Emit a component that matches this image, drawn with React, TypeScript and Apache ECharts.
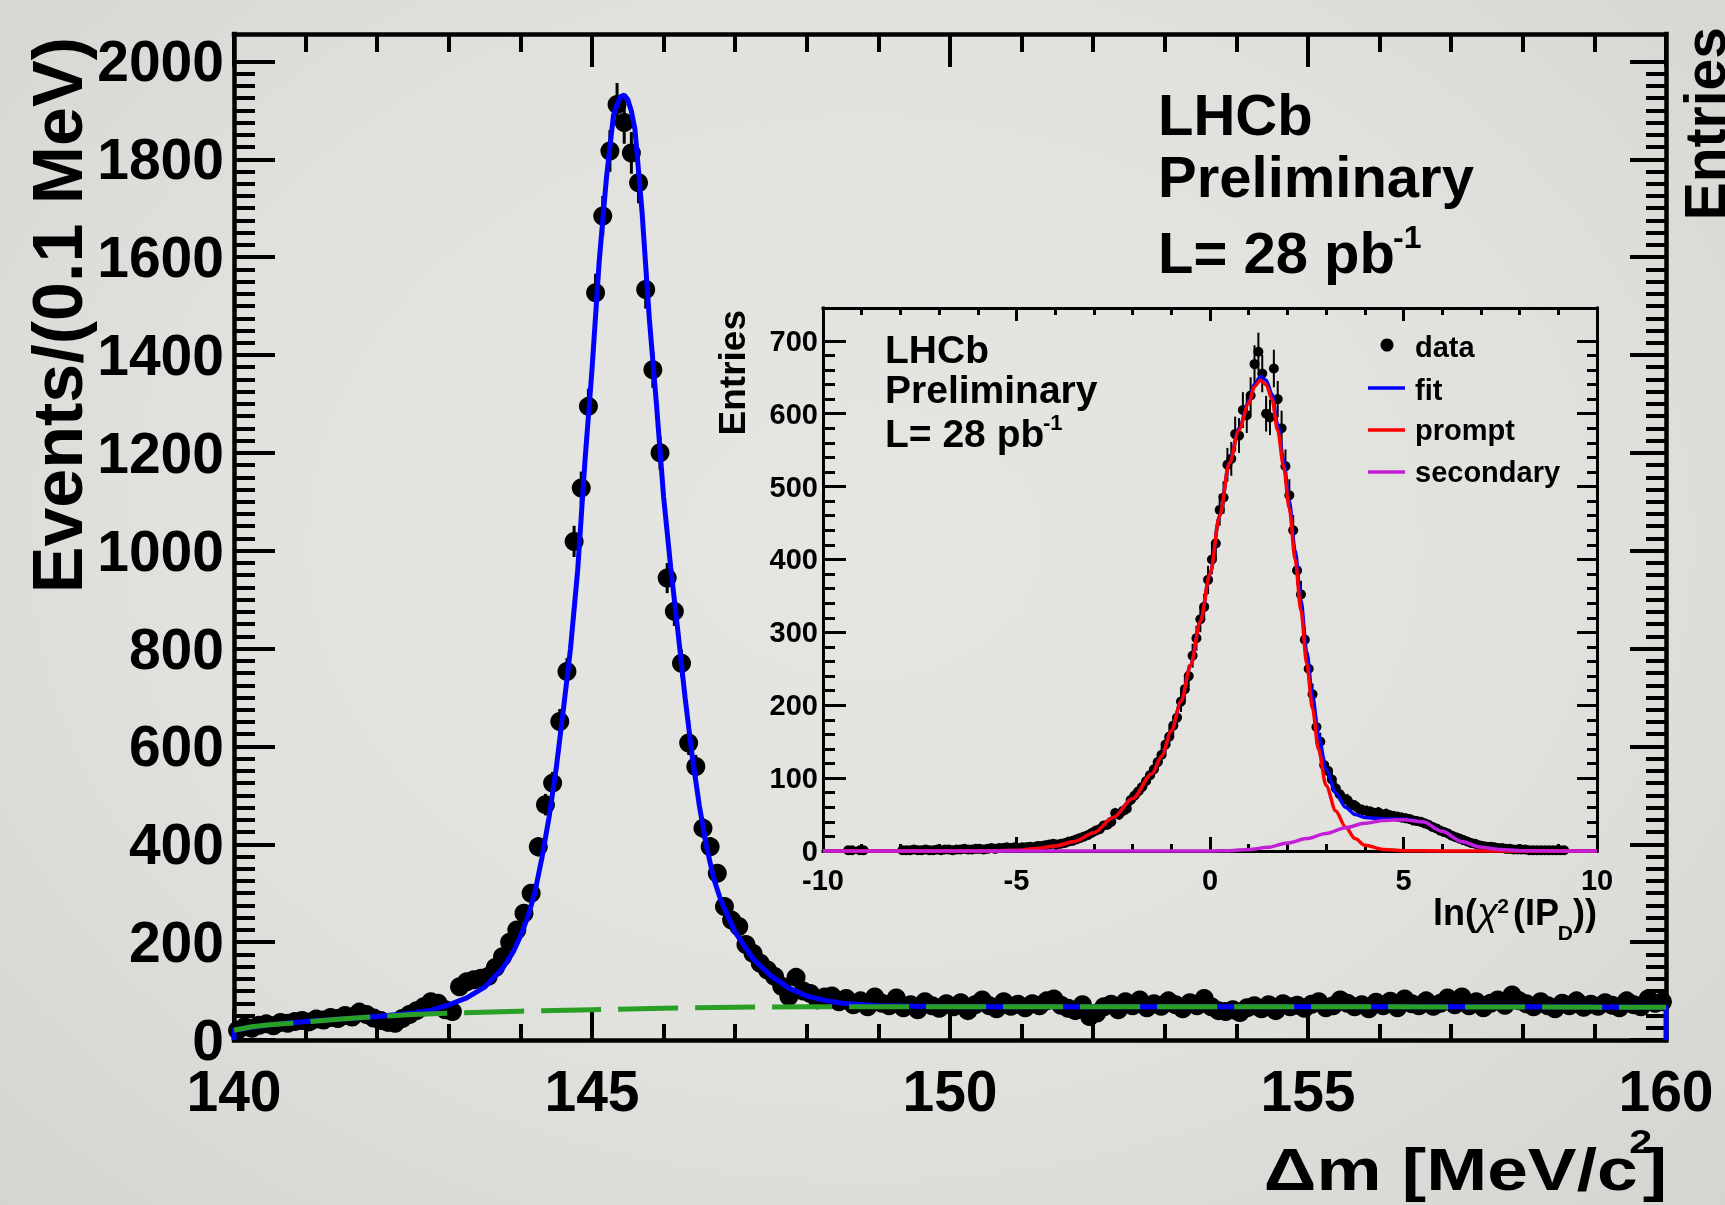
import React, { useEffect, useRef } from "react";
import * as echarts from "echarts";

const FONT = '"Liberation Sans", Arial, Helvetica, sans-serif';

// ---------- Δm = m(D*) - m(D0) spectrum, 0.1 MeV/c^2 bins from 140 to 160 ----------
const massBinStart = 140;
const massBinWidth = 0.1;
const massCounts = [
  20, 27, 24, 30, 33, 29, 36, 34, 38, 40,
  37, 43, 41, 46, 44, 50, 47, 57, 52, 45,
  40, 36, 34, 44, 52, 60, 68, 78, 75, 62,
  58, 109, 119, 123, 126, 130, 148, 170, 200, 225,
  259, 300, 395, 481, 525, 651, 753, 1019, 1128, 1295,
  1527, 1684, 1817, 1912, 1875, 1813, 1752, 1534, 1370, 1200,
  944, 876, 770, 607, 559, 433, 395, 341, 273, 245,
  232, 195, 177, 157, 143, 130, 110, 89, 128, 100,
  95, 82, 88, 90, 78, 85, 72, 80, 68, 88,
  75, 70, 86, 66, 72, 62, 78, 70, 65, 74,
  68, 76, 60, 72, 82, 70, 64, 78, 69, 73,
  66, 74, 70, 80, 84, 71, 65, 60, 72, 48,
  55, 68, 73, 62, 78, 70, 82, 66, 74, 69,
  80, 72, 64, 76, 70, 85, 68, 60, 58, 62,
  56, 66, 70, 64, 72, 60, 74, 68, 71, 65,
  73, 78, 66, 70, 82, 75, 68, 72, 64, 77,
  70, 79, 66, 84, 74, 70, 80, 69, 75, 86,
  72, 88, 70, 78, 66, 75, 82, 71, 92, 80,
  74, 68, 78, 70, 64, 75, 70, 80, 67, 73,
  69, 76, 71, 66, 80, 72, 68, 84, 75, 78,
];

// total fit (signal + background)
const massFitX = [
  140, 140, 140.25, 140.5, 141, 141.5, 142, 142.5, 142.75, 143,
  143.25, 143.5, 143.75, 143.9, 144, 144.1, 144.2, 144.3, 144.4, 144.5,
  144.6, 144.7, 144.8, 144.9, 145, 145.1, 145.2, 145.3, 145.35, 145.4,
  145.45, 145.5, 145.55, 145.6, 145.7, 145.8, 145.9, 146, 146.1, 146.2,
  146.3, 146.4, 146.5, 146.6, 146.7, 146.8, 147, 147.25, 147.5, 147.75,
  148, 148.25, 148.5, 149, 150, 152, 155, 158, 160, 160,
];
const massFitY = [
  0, 20, 26, 31, 38, 43, 48, 55, 61, 72,
  86, 108, 146, 180, 212, 250, 300, 372, 455, 555,
  675, 800, 960, 1180, 1370, 1590, 1759, 1890, 1912, 1928,
  1931, 1922, 1898, 1861, 1690, 1475, 1300, 1110, 965, 835,
  700, 580, 478, 395, 330, 285, 220, 166, 131, 106,
  90, 81, 75, 70, 68, 68, 68, 68, 67, 0,
];

// combinatorial background component
const massBkgX = [140, 140.25, 140.5, 141, 141.5, 142, 142.5, 143, 144, 145, 146, 147, 148, 150, 155, 160];
const massBkgY = [20, 27, 31, 37, 43, 48, 52, 55, 59, 62, 65, 67, 68, 68, 68, 67];

// ---------- ln(chi2(IP_D)) distribution, 0.1 bins from -10 to 10 ----------
const ipBinStart = -10;
const ipBinWidth = 0.1;
const ipCounts = [
  0, 0, 0, 0, 0, 0, 1, 1, 0, 1,
  1, 0, 0, 0, 0, 0, 0, 0, 0, 0,
  1, 1, 1, 2, 1, 1, 2, 1, 1, 2,
  1, 2, 2, 1, 2, 2, 3, 2, 2, 3,
  3, 2, 3, 4, 3, 4, 4, 5, 4, 5,
  4, 5, 5, 6, 5, 7, 7, 8, 9, 10,
  9, 10, 11, 13, 14, 16, 18, 20, 22, 25,
  28, 30, 35, 36, 40, 52, 50, 55, 58, 70,
  76, 82, 88, 96, 104, 112, 122, 132, 146, 157,
  172, 183, 205, 222, 240, 268, 292, 318, 335, 372,
  400, 422, 468, 485, 530, 538, 572, 570, 605, 598,
  625, 668, 685, 655, 600, 595, 662, 620, 580, 528,
  488, 440, 385, 352, 290, 250, 215, 170, 150, 118,
  110, 98, 86, 78, 72, 70, 64, 62, 58, 56,
  55, 54, 52, 53, 50, 51, 49, 48, 47, 46,
  45, 44, 42, 41, 40, 38, 36, 33, 31, 28,
  26, 24, 21, 19, 17, 15, 13, 11, 10, 8,
  7, 6, 6, 5, 4, 4, 3, 3, 2, 2,
  2, 2, 1, 1, 1, 1, 1, 1, 1, 1,
  1, 1, 0, 0, 0, 0, 0, 0, 0, 0,
];

const ipFitX = [
  -10, -6, -5, -4.5, -4, -3.5, -3, -2.5, -2, -1.5,
  -1.25, -1, -0.75, -0.5, -0.25, 0, 0.25, 0.5, 0.75, 1,
  1.15, 1.3, 1.45, 1.6, 1.75, 1.9, 2.05, 2.2, 2.35, 2.5,
  2.65, 2.8, 3, 3.25, 3.5, 3.75, 4, 4.5, 5, 5.5,
  6, 6.5, 7, 7.5, 8, 9, 10,
];
const ipFitY = [
  0, 0, 1, 3.5, 7, 13, 25, 46, 72, 106,
  130, 165, 205, 255, 315, 380, 460, 533, 580, 616,
  640, 651, 646, 627, 585, 537, 480, 412, 344, 273,
  213, 160, 112, 80, 60, 50, 46, 44, 43.5, 40,
  27, 13, 5, 2, 0.5, 0, 0,
];
const ipPromptX = [
  -10, -6, -5, -4.5, -4, -3.5, -3, -2.5, -2, -1.5,
  -1.25, -1, -0.75, -0.5, -0.25, 0, 0.25, 0.5, 0.75, 1,
  1.15, 1.3, 1.45, 1.6, 1.75, 1.9, 2.05, 2.2, 2.35, 2.5,
  2.65, 2.8, 3, 3.25, 3.5, 3.75, 4, 4.5, 5, 6, 10,
];
const ipPromptY = [
  0, 0, 1, 3.5, 7, 13, 25, 46, 72, 106,
  130, 165, 205, 255, 315, 380, 460, 532, 578, 614,
  637, 646, 640, 620, 577, 528, 470, 400, 330, 257,
  195, 140, 90, 55, 33, 17, 8, 2, 0.5, 0, 0,
];
const ipSecondaryX = [-10, 0, 0.5, 1, 1.5, 2, 2.5, 3, 3.5, 4, 4.5, 5, 5.5, 6, 6.5, 7, 7.5, 8, 9, 10];
const ipSecondaryY = [0, 0, 0.5, 2, 5, 11, 17, 24, 32, 38, 42, 43, 40, 27, 13, 5, 2, 0.5, 0, 0];

// ---------- layout ----------
const W = 1725;
const H = 1205;
const MAIN = { left: 234, top: 34, right: 1666, bottom: 1040 };
const MAIN_X = [140, 160];
const MAIN_Y_MAX = 2056;
const MAIN_Y_TICK_MAX = 2000;
const INSET = { left: 823, top: 308, right: 1597, bottom: 851 };
const INSET_X = [-10, 10];
const INSET_Y_MAX = 745;
const INSET_Y_TICK_MAX = 700;

const zip = (xs: number[], ys: number[]) => xs.map((x, i) => [x, ys[i]]);
const binned = (start: number, width: number, counts: number[]) =>
  counts
    .map((c, i) => [start + (i + 0.5) * width, c])
    .filter((p) => p[1] > 0);

const massPoints = binned(massBinStart, massBinWidth, massCounts);
const ipPoints = binned(ipBinStart, ipBinWidth, ipCounts);

const lineStyle = (w: number) => ({ color: "#000", width: w, cap: "square" });
const ticks = (major: number, minor: number, split: number, w: number) => ({
  axisTick: { show: true, inside: true, length: major, lineStyle: { color: "#000", width: w } },
  minorTick: { show: true, splitNumber: split, length: minor, lineStyle: { color: "#000", width: w } },
});
const noTicks = { axisTick: { show: false }, minorTick: { show: false } };
const label = (size: number, margin: number, padding?: number[]) => ({
  show: true,
  color: "#000",
  fontSize: size,
  fontWeight: "bold",
  fontFamily: FONT,
  margin,
  formatter: (v: number) => String(v),
  ...(padding ? { padding } : {}),
});
const noLabel = { axisLabel: { show: false } };
const noSplit = { splitLine: { show: false }, minorSplitLine: { show: false } };
const hiddenLine = { axisLine: { show: false, onZero: false } };

const errorBars = (xAxisIndex: number, yAxisIndex: number, pts: number[][], w: number) => ({
  type: "custom",
  xAxisIndex,
  yAxisIndex,
  silent: true,
  z: 2,
  clip: false,
  data: pts.map((p) => [p[0], p[1], Math.sqrt(p[1])]),
  renderItem: (_params: any, api: any) => {
    const x = api.value(0);
    const y = api.value(1);
    const e = api.value(2);
    const a = api.coord([x, Math.max(0, y - e)]);
    const b = api.coord([x, y + e]);
    return {
      type: "line",
      shape: { x1: a[0], y1: a[1], x2: b[0], y2: b[1] },
      style: { stroke: "#000", lineWidth: w },
    };
  },
});

const dots = (xAxisIndex: number, yAxisIndex: number, pts: number[][], size: number) => ({
  type: "scatter",
  xAxisIndex,
  yAxisIndex,
  data: pts,
  symbol: "circle",
  symbolSize: size,
  itemStyle: { color: "#000", opacity: 1 },
  silent: true,
  clip: false,
  z: 3,
});

const curve = (
  xAxisIndex: number,
  yAxisIndex: number,
  xs: number[],
  ys: number[],
  color: string,
  width: number,
  z: number,
  smooth: number | boolean,
  extra: any = {}
) => ({
  type: "line",
  xAxisIndex,
  yAxisIndex,
  data: zip(xs, ys),
  symbol: "none",
  showSymbol: false,
  silent: true,
  clip: false,
  smooth,
  smoothMonotone: "x",
  z,
  lineStyle: { color, width, opacity: 1, ...extra },
});

// text placed by its baseline
const text = (
  str: string,
  x: number,
  baseline: number,
  size: number,
  align: string = "left",
  more: any = {}
) => ({
  type: "text",
  x,
  y: baseline - 0.347 * size,
  silent: true,
  style: {
    text: str,
    fill: "#000",
    fontSize: size,
    fontWeight: "bold",
    fontFamily: FONT,
    align,
    verticalAlign: "middle",
    ...(more.style || {}),
  },
});

// vertical title reading upwards; `top` is where the end of the string sits
const vtext = (str: string, baselineX: number, top: number, size: number) => ({
  type: "text",
  x: baselineX - 0.347 * size,
  y: top,
  rotation: Math.PI / 2,
  silent: true,
  style: {
    text: str,
    fill: "#000",
    fontSize: size,
    fontWeight: "bold",
    fontFamily: FONT,
    align: "right",
    verticalAlign: "middle",
  },
});

function buildOption() {
  const mainH = MAIN.bottom - MAIN.top;
  const mainW = MAIN.right - MAIN.left;
  const mainTickH = (mainH * MAIN_Y_TICK_MAX) / MAIN_Y_MAX;
  const insH = INSET.bottom - INSET.top;
  const insW = INSET.right - INSET.left;
  const insTickH = (insH * INSET_Y_TICK_MAX) / INSET_Y_MAX;

  const grid = [
    { left: MAIN.left, top: MAIN.top, width: mainW, height: mainH },
    { left: MAIN.left, top: MAIN.bottom - mainTickH, width: mainW, height: mainTickH },
    { left: INSET.left, top: INSET.top, width: insW, height: insH },
    { left: INSET.left, top: INSET.bottom - insTickH, width: insW, height: insTickH },
  ].map((g) => ({ ...g, containLabel: false, outerBoundsMode: "none", show: false }));

  const xAxis = [
    {
      type: "value", gridIndex: 0, position: "bottom", min: MAIN_X[0], max: MAIN_X[1], interval: 5,
      axisLine: { show: true, onZero: false, lineStyle: lineStyle(4.5) },
      ...ticks(31, 16, 5, 4),
      axisLabel: label(57, 22),
      ...noSplit,
    },
    {
      type: "value", gridIndex: 0, position: "top", min: MAIN_X[0], max: MAIN_X[1], interval: 5,
      axisLine: { show: true, onZero: false, lineStyle: lineStyle(4.5) },
      ...ticks(33, 18, 5, 4),
      ...noLabel,
      ...noSplit,
    },
    { type: "value", gridIndex: 1, min: MAIN_X[0], max: MAIN_X[1], show: false, ...hiddenLine },
    {
      type: "value", gridIndex: 2, position: "bottom", min: INSET_X[0], max: INSET_X[1], interval: 5,
      axisLine: { show: true, onZero: false, lineStyle: lineStyle(3) },
      ...ticks(14, 7, 5, 3),
      axisLabel: label(29, 14),
      ...noSplit,
    },
    {
      type: "value", gridIndex: 2, position: "top", min: INSET_X[0], max: INSET_X[1], interval: 5,
      axisLine: { show: true, onZero: false, lineStyle: lineStyle(3) },
      ...ticks(13, 7, 5, 3),
      ...noLabel,
      ...noSplit,
    },
    { type: "value", gridIndex: 3, min: INSET_X[0], max: INSET_X[1], show: false, ...hiddenLine },
  ];

  const frameY = (gridIndex: number, position: string, max: number, w: number) => ({
    type: "value", gridIndex, position, min: 0, max,
    axisLine: { show: true, onZero: false, lineStyle: lineStyle(w) },
    ...noTicks,
    ...noLabel,
    ...noSplit,
  });

  const yAxis = [
    frameY(0, "left", MAIN_Y_MAX, 4.5),
    frameY(0, "right", MAIN_Y_MAX, 4.5),
    {
      type: "value", gridIndex: 1, position: "left", min: 0, max: MAIN_Y_TICK_MAX, interval: 200,
      ...hiddenLine,
      ...ticks(41, 21, 8, 4),
      axisLabel: label(57, 10, [10, 0, 0, 0]),
      ...noSplit,
    },
    {
      type: "value", gridIndex: 1, position: "right", min: 0, max: MAIN_Y_TICK_MAX, interval: 200,
      ...hiddenLine,
      ...ticks(36, 20, 8, 4),
      ...noLabel,
      ...noSplit,
    },
    frameY(2, "left", INSET_Y_MAX, 3),
    frameY(2, "right", INSET_Y_MAX, 3),
    {
      type: "value", gridIndex: 3, position: "left", min: 0, max: INSET_Y_TICK_MAX, interval: 100,
      ...hiddenLine,
      ...ticks(23, 12, 5, 3),
      axisLabel: label(29, 5, [4, 0, 0, 0]),
      ...noSplit,
    },
    {
      type: "value", gridIndex: 3, position: "right", min: 0, max: INSET_Y_TICK_MAX, interval: 100,
      ...hiddenLine,
      ...ticks(20, 10, 5, 3),
      ...noLabel,
      ...noSplit,
    },
  ];

  const series = [
    // main plot: data, total fit, background
    errorBars(0, 0, massPoints, 3),
    dots(0, 0, massPoints, 19),
    curve(0, 0, massFitX, massFitY, "#0000ff", 5, 4, false),
    curve(0, 0, massBkgX, massBkgY, "#2a9f26", 5, 5, false, { type: [60, 17] }),
    // inset: data, fit and its two components
    errorBars(3, 4, ipPoints, 2),
    dots(3, 4, ipPoints, 10),
    curve(3, 4, ipFitX, ipFitY, "#0000ff", 3.5, 4, 0.3),
    curve(3, 4, ipPromptX, ipPromptY, "#ff0000", 3.5, 5, 0.3),
    curve(3, 4, ipSecondaryX, ipSecondaryY, "#c21fd6", 3.5, 6, 0.3),
  ];

  const legendRows = [
    { y: 388, color: "#0000ff", label: "fit", base: 400 },
    { y: 430, color: "#ff0000", label: "prompt", base: 440 },
    { y: 472, color: "#c21fd6", label: "secondary", base: 482 },
  ];

  const graphic = [
    // axis titles
    vtext("Events/(0.1 MeV)", 82, 37, 70),
    {
      type: "group",
      x: MAIN.right + 1,
      y: 1190,
      scaleX: 1.22,
      silent: true,
      children: [
        text("]", 0, 0, 60, "right"),
        text("2", -12, -37, 34, "right"),
        text("Δm [MeV/c", -24, 0, 60, "right"),
      ],
    },
    vtext("Entries", 745, 310, 37),
    vtext("Entries", 1725, 27, 57),
    // inset x title: ln(χ²(IP_D))
    text("))", INSET.right, 925, 36, "right"),
    text("D", 1573, 940, 21, "right"),
    text("(IP", 1559, 925, 36, "right"),
    text("2", 1509, 913, 21, "right"),
    text("χ", 1498, 925, 38, "right", { style: { fontStyle: "italic", fontWeight: "normal" } }),
    text("ln(", 1477, 925, 36, "right"),
    // main labels
    text("LHCb", 1158, 135, 58),
    text("Preliminary", 1158, 197, 58),
    text("L= 28 pb", 1158, 273, 58),
    text("-1", 1393, 248, 32),
    // inset labels
    text("LHCb", 885, 363, 39),
    text("Preliminary", 885, 403, 39),
    text("L= 28 pb", 885, 447, 39),
    text("-1", 1043, 430, 22),
    // inset legend
    { type: "circle", silent: true, shape: { cx: 1387, cy: 345, r: 6.5 }, style: { fill: "#000" } },
    text("data", 1415, 357, 29),
    ...legendRows.flatMap((r) => [
      {
        type: "line",
        silent: true,
        shape: { x1: 1368, y1: r.y, x2: 1405, y2: r.y },
        style: { stroke: r.color, lineWidth: 3.5 },
      },
      text(r.label, 1415, r.base, 29),
    ]),
  ];

  return {
    animation: false,
    backgroundColor: "transparent",
    grid,
    xAxis,
    yAxis,
    series,
    graphic,
  };
}

export default function App() {
  const ref = useRef<HTMLDivElement>(null);

  useEffect(() => {
    if (!ref.current) return;
    const chart = echarts.init(ref.current, undefined, { renderer: "svg", width: W, height: H });
    chart.setOption(buildOption() as any);
    return () => chart.dispose();
  }, []);

  return (
    <div
      style={{
        position: "fixed",
        left: 0,
        top: 0,
        width: W,
        height: H,
        overflow: "hidden",
        background:
          "radial-gradient(ellipse at 50% 45%, #e5e6e1 0%, #e1e2dd 55%, #d4d5d0 100%)",
      }}
    >
      <div ref={ref} style={{ width: W, height: H }} />
    </div>
  );
}
